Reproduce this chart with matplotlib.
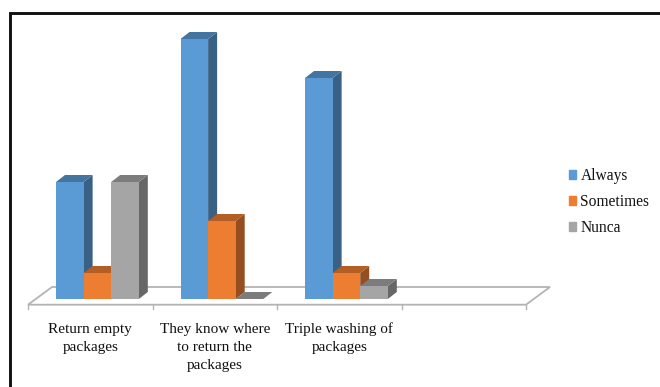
import matplotlib
matplotlib.use('Agg')
import matplotlib.pyplot as plt
from matplotlib.patches import Patch, Polygon

# survey answers per question
categories = ['Return empty\npackages', 'They know where\nto return the\npackages', 'Triple washing of\npackages']
always = [9, 20, 17]
sometimes = [2, 6, 2]
nunca = [9, 0, 1]

W, H = 660, 387
PX_X = 124.5  # pixels per category
PX_Y = 13.0   # pixels per answer
X0, Y0 = 28.0, 299.0

plt.rcParams['font.family'] = 'Liberation Serif'
fig = plt.figure(figsize=(W / 100, H / 100), dpi=100)
ax = fig.add_axes([0, 0, 1, 1])
ax.set_xlim(-X0 / PX_X, (W - X0) / PX_X)
ax.set_ylim((Y0 - H) / PX_Y, Y0 / PX_Y)
ax.axis('off')

bar_w = 27.6 / PX_X
dx = 9 / PX_X
dy = 7 / PX_Y
first = 0.225

# floor of the 3D chart
floor_dx = 24 / PX_X
floor_low = -5.7 / PX_Y
floor_high = 12 / PX_Y
n_slots = 4
floor = Polygon([(0, floor_low), (n_slots, floor_low), (n_slots + floor_dx, floor_high), (floor_dx, floor_high)],
                closed=True, fill=False, edgecolor='#b4b4b4', linewidth=1.3, zorder=1)
ax.add_patch(floor)
for i in range(n_slots + 1):
    ax.plot([i, i], [floor_low, floor_low - 4.5 / PX_Y], color='#b4b4b4', linewidth=1, zorder=1)


def bars_3d(offset, values, front, top, side):
    for i, v in enumerate(values):
        x = i + first + offset
        ax.add_patch(Polygon([(x + bar_w, 0), (x + bar_w + dx, dy), (x + bar_w + dx, v + dy), (x + bar_w, v)],
                             closed=True, facecolor=side, edgecolor='none', zorder=3 + i))
        ax.add_patch(Polygon([(x, v), (x + dx, v + dy), (x + bar_w + dx, v + dy), (x + bar_w, v)],
                             closed=True, facecolor=top, edgecolor='none', zorder=3 + i))
        if v > 0:
            ax.bar(x, v, width=bar_w, align='edge', color=front, edgecolor='none', zorder=3 + i)


# left to right so each bar hides the side of the previous one
bars_3d(0, always, '#5b9bd5', '#4474a0', '#396185')
bars_3d(bar_w, sometimes, '#ed7d31', '#b25e25', '#944e1f')
bars_3d(2 * bar_w, nunca, '#a5a5a5', '#7c7c7c', '#676767')

# wrapped labels, one text per line for an even 18 px pitch
for i, label in enumerate(categories):
    for j, line in enumerate(label.split('\n')):
        ax.text(i + 0.5, (Y0 - 333 - 18 * j) / PX_Y, line, ha='center', va='baseline', fontsize=11,
                color='#111111')

handles = [Patch(color='#5b9bd5', label='Always'),
           Patch(color='#ed7d31', label='Sometimes'),
           Patch(color='#a5a5a5', label='Nunca')]
ax.legend(handles=handles, loc='center left', bbox_to_anchor=(569 / W, 1 - 202 / H), frameon=False,
          fontsize=11.2, handlelength=0.48, handleheight=0.5, handletextpad=0.25, labelspacing=0.66,
          borderpad=0, borderaxespad=0, labelcolor='#111111')

# black rule along the top and left edges
ax.plot([1, 9.7 / W, 9.7 / W], [1 - 13.3 / H, 1 - 13.3 / H, 0], transform=ax.transAxes,
        color='#111111', linewidth=2.1, solid_joinstyle='miter', clip_on=False, zorder=10)

fig.savefig('out.png', dpi=100)
